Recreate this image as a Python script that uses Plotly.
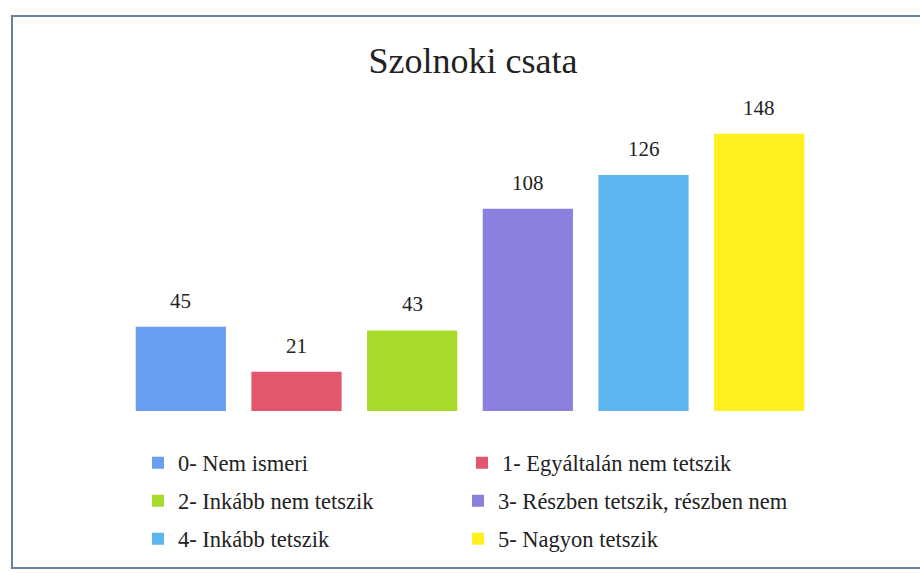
import plotly.graph_objects as go

categories = ["0- Nem ismeri", "1- Egyáltalán nem tetszik", "2- Inkább nem tetszik",
              "3- Részben tetszik, részben nem", "4- Inkább tetszik", "5- Nagyon tetszik"]
values = [45, 21, 43, 108, 126, 148]
colors = ["#6A9EF0", "#E2566E", "#A8DA2C", "#8A80DE", "#5DB4EE", "#FFF01E"]
legend_ids = ["legend", "legend2", "legend3", "legend4", "legend5", "legend6"]

FONT = "Liberation Serif"
W, H = 920, 573
L, R, T, B = 123, 103, 100, 162
PW, PH = W - L - R, H - T - B

fig = go.Figure()
for cat, val, col, lg in zip(categories, values, colors, legend_ids):
    fig.add_trace(go.Bar(
        x=[cat], y=[val], name=cat, marker=dict(color=col, line=dict(width=0)),
        legend=lg, showlegend=True,
    ))
    fig.add_annotation(x=cat, y=val, text=str(val), showarrow=False,
                       yanchor="bottom", yshift=12,
                       font=dict(family=FONT, size=21, color="#222222"))

def leg(xpix, ypix):
    return dict(orientation="v", xref="paper", yref="paper",
                x=(xpix - L) / PW, y=(H - B - ypix) / PH, xanchor="left", yanchor="middle",
                font=dict(family=FONT, size=22.5, color="#222222"),
                bgcolor="rgba(0,0,0,0)", itemclick=False, visible=True)

legend_pos = [(138, 463), (462, 463), (138, 501), (458, 501), (138, 539), (458, 539)]
legends = {lg: leg(xp, yp) for lg, (xp, yp) in zip(legend_ids, legend_pos)}

fig.update_layout(
    width=W, height=H,
    showlegend=True,
    margin=dict(l=L, r=R, t=T, b=B, autoexpand=False),
    paper_bgcolor="white", plot_bgcolor="white",
    barmode="overlay", bargap=0.22,
    title=dict(text="Szolnoki csata", x=473 / W, xanchor="center", y=1 - 60 / H,
               yanchor="middle", font=dict(family=FONT, size=36, color="#222222")),
    xaxis=dict(visible=False, categoryorder="array", categoryarray=categories),
    yaxis=dict(visible=False, range=[0, 166]),
    shapes=[dict(type="rect", xref="paper", yref="paper", layer="below",
                 x0=(12 - L) / PW, x1=(930 - L) / PW,
                 y0=(H - B - 568) / PH, y1=(H - B - 16) / PH,
                 line=dict(color="#6F7FA3", width=2))],
    **legends,
)

fig.write_html("out.html", config={"displayModeBar": False},
               post_script="document.body.style.margin='0';")
